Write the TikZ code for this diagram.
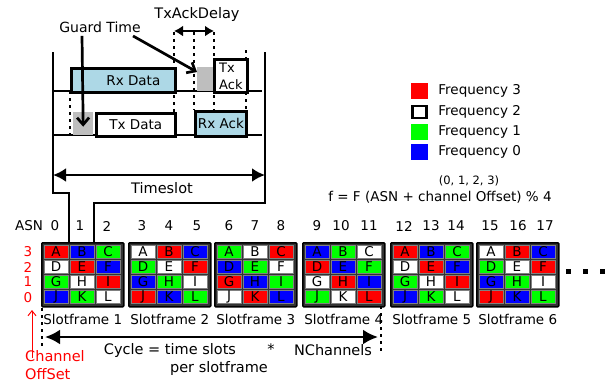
\documentclass[tikz,border=0pt]{standalone}
\usepackage{fontspec}
\setmainfont{DejaVu Sans}
\usetikzlibrary{arrows.meta}
\usetikzlibrary{positioning}

\definecolor{fqred}{RGB}{255,0,0}
\definecolor{fqgreen}{RGB}{0,255,0}
\definecolor{fqblue}{RGB}{0,0,255}
\colorlet{fq0}{fqred}
\colorlet{fq1}{fqblue}
\colorlet{fq2}{fqgreen}
\colorlet{fq3}{white}
\definecolor{rxblue}{RGB}{173,216,230}
\definecolor{guardgray}{RGB}{190,190,190}

\tikzset{
  thickline/.style={line width=2.7pt},
  dotline/.style={line width=2.7pt, dash pattern=on 3pt off 4pt},
  slotbox/.style={draw, line width=1.5pt, fill=black!80, rounded corners=1pt, minimum width=82pt, minimum height=64pt, inner sep=0pt, anchor=north west},
  cell/.style={draw=black!50, line width=0.5pt, minimum width=24pt, minimum height=13pt, inner sep=0pt, font=\fontsize{13.5}{13.5}\selectfont},
  framebox/.style={draw, line width=2.7pt, inner sep=0pt, anchor=north west},
  guardbox/.style={fill=guardgray, inner sep=0pt, anchor=north west},
  legsq/.style={minimum width=17pt, minimum height=16pt, inner sep=0pt},
  legtext/.style={inner sep=0pt},
  offset/.style={text=red, inner sep=0pt},
  bigtext/.style={font=\fontsize{14.5}{18}\selectfont},
}

\begin{document}
\begin{tikzpicture}[x=1pt, y=-1pt, font=\fontsize{13.5}{15}\selectfont]
  \useasboundingbox (0,0) rectangle (605,384);

  % timeslot frame
  \coordinate (tsl) at (53,52);
  \coordinate (tsr) at (265,52);
  \draw [thickline] (tsl) -- (53,193) -- (69,193) -- (69,242);
  \draw [thickline] (tsr) -- (265,203) -- (94,203) -- (94,242);
  \draw [thickline] (53,91) -- (262,91);
  \draw [thickline] (53,135) -- (262,135);

  % dotted markers
  \draw [dotline] (70,91) -- (70,139);
  \draw [dotline] (174,32) -- (174,112);
  \draw [dotline] (194,32) -- (194,110);
  \draw [dotline] (214,32) -- (214,110);
  \draw [dotline] (246,50) -- (246,110);

  % rx / tx boxes
  \node [framebox, fill=rxblue, minimum width=104pt, minimum height=24pt] (rxdata) at (70,67) {};
  \node (rxdatalbl) at ([xshift=10pt]rxdata.center) {Rx Data};
  \node [framebox, fill=white, minimum width=79pt, minimum height=23pt] (txdata) at (95,112) {Tx Data};
  \node [guardbox, minimum width=20pt, minimum height=23pt] (guard1) at (73,112) {};
  \node [guardbox, minimum width=16pt, minimum height=24pt] (guard2) at (197,67) {};
  \node [framebox, fill=white, minimum width=33pt, minimum height=33pt, align=left, font=\fontsize{13}{17}\selectfont] (txack) at (213,58) {Tx\\Ack};
  \node [framebox, fill=rxblue, minimum width=51pt, minimum height=25pt] (rxack) at (194,110) {Rx Ack};

  % guard time and delay
  \node [font=\fontsize{14}{15}\selectfont] (guardlbl) at (100,27) {Guard Time};
  \draw [thickline, -{Straight Barb[length=7pt,width=12pt]}] ([xshift=-18pt]guardlbl.south) -- ([yshift=-3pt]guard1.center);
  \draw [thickline, -{Straight Barb[length=7pt,width=12pt]}] ([xshift=33pt]guardlbl.south) -- ([yshift=-5pt]guard2.north west);
  \coordinate (dl) at (174,31);
  \coordinate (dr) at (214,31);
  \draw [thickline, {Latex[length=9pt,width=11pt]}-{Latex[length=9pt,width=11pt]}] (dl) -- (dr);
  \node [font=\fontsize{14.5}{15}\selectfont] (delaylbl) at (197,14) {TxAckDelay};

  % timeslot arrow
  \coordinate (tsa) at (53,175);
  \coordinate (tsb) at (265,175);
  \draw [thickline, {Latex[length=13pt,width=14pt]}-{Latex[length=13pt,width=14pt]}] (tsa) -- (tsb);
  \node [font=\fontsize{14.5}{15}\selectfont] (tslbl) at (162,188) {Timeslot};

  % legend
  \node [legsq, fill=fqred] (leg3) at (419.5,91) {};
  \node [legsq, draw, line width=2.7pt, fill=white, minimum width=14.5pt, minimum height=12pt] (leg2) at (419.5,112) {};
  \node [legsq, fill=fqgreen] (leg1) at (419.5,131.5) {};
  \node [legsq, fill=fqblue] (leg0) at (419.5,152) {};
  \node [legtext, right=10pt of leg3] (legt3) {Frequency 3};
  \node [legtext, right=10pt of leg2] (legt2) {Frequency 2};
  \node [legtext, right=10pt of leg1] (legt1) {Frequency 1};
  \node [legtext, right=10pt of leg0] (legt0) {Frequency 0};

  % channel formula
  \node [font=\fontsize{11.5}{13}\selectfont] (fset) at (469,181) {(0, 1, 2, 3)};
  \node (fform) at (440,197) {f = F (ASN + channel Offset) \% 4};

  % ASN row
  \node (asn) at (29,226) {ASN};
  \foreach \n/\x in {0/55,1/80,2/107,3/142,4/169,5/197,6/229,7/255,8/281,9/317,10/341,11/369,12/404,13/431,14/456,15/490,16/518,17/545}
    \node (asn\n) at (\x,226) {\n};

  % channel offsets
  \foreach \ch/\y in {3/252,2/267,1/282,0/298}
    \node [offset] (ch\ch) at (28,\y) {\ch};

  % slotframes
  \foreach \fr/\x in {1/41,2/128,3/214,4/302,5/390,6/476} {
    \node [slotbox] (sf\fr) at (\x,242) {};
    \foreach \l [count=\i from 0] in {A,B,C,D,E,F,G,H,I,J,K,L} {
      \pgfmathtruncatemacro{\k}{mod(\i-\fr+9,4)}
      \pgfmathtruncatemacro{\cx}{mod(\i,3)}
      \pgfmathtruncatemacro{\ry}{int(\i/3)}
      \node [cell, fill=fq\k] (sf\fr\l) at (\x+15+\cx*26, 251.5+\ry*15) {\l};
    }
    \node [below=7pt of sf\fr, inner sep=0pt] (sflbl\fr) {Slotframe \fr};
  }
  \foreach \x [count=\i] in {568,585,602}
    \node [fill, minimum size=5pt, inner sep=0pt] (more\i) at (\x,271) {};

  % cycle
  \coordinate (cyl) at (45,337);
  \coordinate (cyr) at (378,337);
  \draw [dotline] (42,308) -- (42,347);
  \draw [dotline] (381,306) -- (381,352);
  \draw [thickline, {Latex[length=15pt,width=15pt]}-{Latex[length=15pt,width=15pt]}] (cyl) -- (cyr);
  \node [bigtext] (cyc1) at (170,350) {Cycle = time slots};
  \node [bigtext] (cyc2) at (271,349) {*};
  \node [bigtext] (cyc3) at (333,350) {NChannels};
  \node [bigtext] (cyc4) at (219,368) {per slotframe};

  % channel offset note
  \node [offset, bigtext, align=left, anchor=north west] (choff) at (25,350) {Channel\\OffSet};
  \coordinate (chtip) at (32,310);
  \draw [red, line width=1pt, -{Straight Barb[length=5pt,width=8pt]}] ([xshift=7pt,yshift=-8pt]choff.north west) -- (chtip);
\end{tikzpicture}
\end{document}
